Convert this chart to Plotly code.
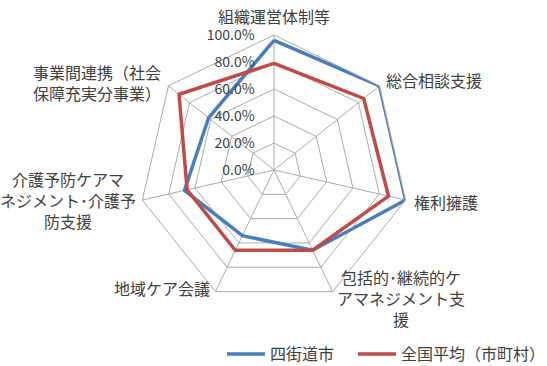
import math
import plotly.graph_objects as go

# Categories (clockwise from the top) and series values (fraction of 1.0)
categories = [
    "組織運営体制等",
    "総合相談支援",
    "権利擁護",
    "包括的・継続的ケアマネジメント支援",
    "地域ケア会議",
    "介護予防ケアマネジメント・介護予防支援",
    "事業間連携（社会保障充実分事業）",
]
category_labels = [
    "組織運営体制等",
    "総合相談支援",
    "権利擁護",
    "包括的･継続的ケ<br>アマネジメント支<br>援",
    "地域ケア会議",
    "介護予防ケアマ<br>ネジメント･介護予<br>防支援",
    "事業間連携（社会<br>保障充実分事業）",
]
yotsukaido = [0.96, 1.00, 1.00, 0.66, 0.54, 0.68, 0.62]
national_avg = [0.79, 0.85, 0.87, 0.66, 0.66, 0.66, 0.90]
series_names = ["四街道市", "全国平均（市町村）"]
radial_ticks = [0.0, 0.2, 0.4, 0.6, 0.8, 1.0]

W, H = 547, 366
CX, CY, R = 274, 170, 135          # plot centre and outer radius, px from top-left
FONT = "Noto Sans CJK JP, Noto Sans, sans-serif"
TEXT = "#404040"
GRID = "#ababab"
BLUE = "#4A7EBB"
RED = "#BE4B48"


def closed(seq):
    return list(seq) + [seq[0]]


fig = go.Figure()
for name, vals, col, leg in [(series_names[0], yotsukaido, BLUE, "legend"),
                             (series_names[1], national_avg, RED, "legend2")]:
    fig.add_trace(go.Scatterpolar(
        r=closed(vals), theta=closed(categories), name=name, mode="lines",
        line=dict(color=col, width=3.5), legend=leg,
    ))

# Category labels placed just outside each vertex of the outer heptagon
label_style = [
    # xanchor, yanchor, xshift, yshift
    ("center", "bottom", 0, 5),
    ("left", "middle", 4, 6),
    ("left", "middle", 6, -2),
    ("left", "middle", 2, -6),
    ("right", "middle", -3, 4),
    ("right", "middle", -4, 0),
    ("right", "middle", -5, 3),
]
n = len(categories)
annotations = []
for i, (lab, (xa, ya, xs, ys)) in enumerate(zip(category_labels, label_style)):
    t = math.radians(90 - 360 * i / n)
    px = CX + R * math.cos(t)
    py = CY - R * math.sin(t)
    annotations.append(dict(
        x=px / W, y=(H - py) / H, xref="paper", yref="paper",
        text=lab, showarrow=False, xanchor=xa, yanchor=ya,
        xshift=xs, yshift=ys, align="center",
        font=dict(family=FONT, size=16, color=TEXT),
    ))

legend_common = dict(
    orientation="h", xanchor="left", y=-5 / H, yanchor="bottom",
    font=dict(family=FONT, size=16, color=TEXT),
    bgcolor="rgba(0,0,0,0)", itemwidth=38,
)

fig.update_layout(
    width=W, height=H,
    margin=dict(l=0, r=0, t=0, b=0, autoexpand=False),
    paper_bgcolor="white",
    font=dict(family=FONT, color=TEXT),
    polar=dict(
        domain=dict(x=[(CX - R) / W, (CX + R) / W],
                    y=[(H - CY - R) / H, (H - CY + R) / H]),
        bgcolor="white",
        gridshape="linear",
        radialaxis=dict(
            range=[0, 1], tickvals=radial_ticks, tickformat=".1%",
            angle=90, side="counterclockwise", tickangle=90,
            showline=False, gridcolor=GRID, gridwidth=1,
            ticks="outside", ticklen=14, tickcolor="rgba(0,0,0,0)",
            tickfont=dict(family=FONT, size=14, color=TEXT),
        ),
        angularaxis=dict(
            rotation=90, direction="clockwise",
            showticklabels=False, ticks="",
            showline=True, linecolor=GRID, linewidth=1,
            gridcolor=GRID, gridwidth=1,
        ),
    ),
    showlegend=True,
    legend=dict(x=222 / W, **legend_common),
    legend2=dict(x=353 / W, **legend_common),
    annotations=annotations,
)

fig.write_html("out.html")
